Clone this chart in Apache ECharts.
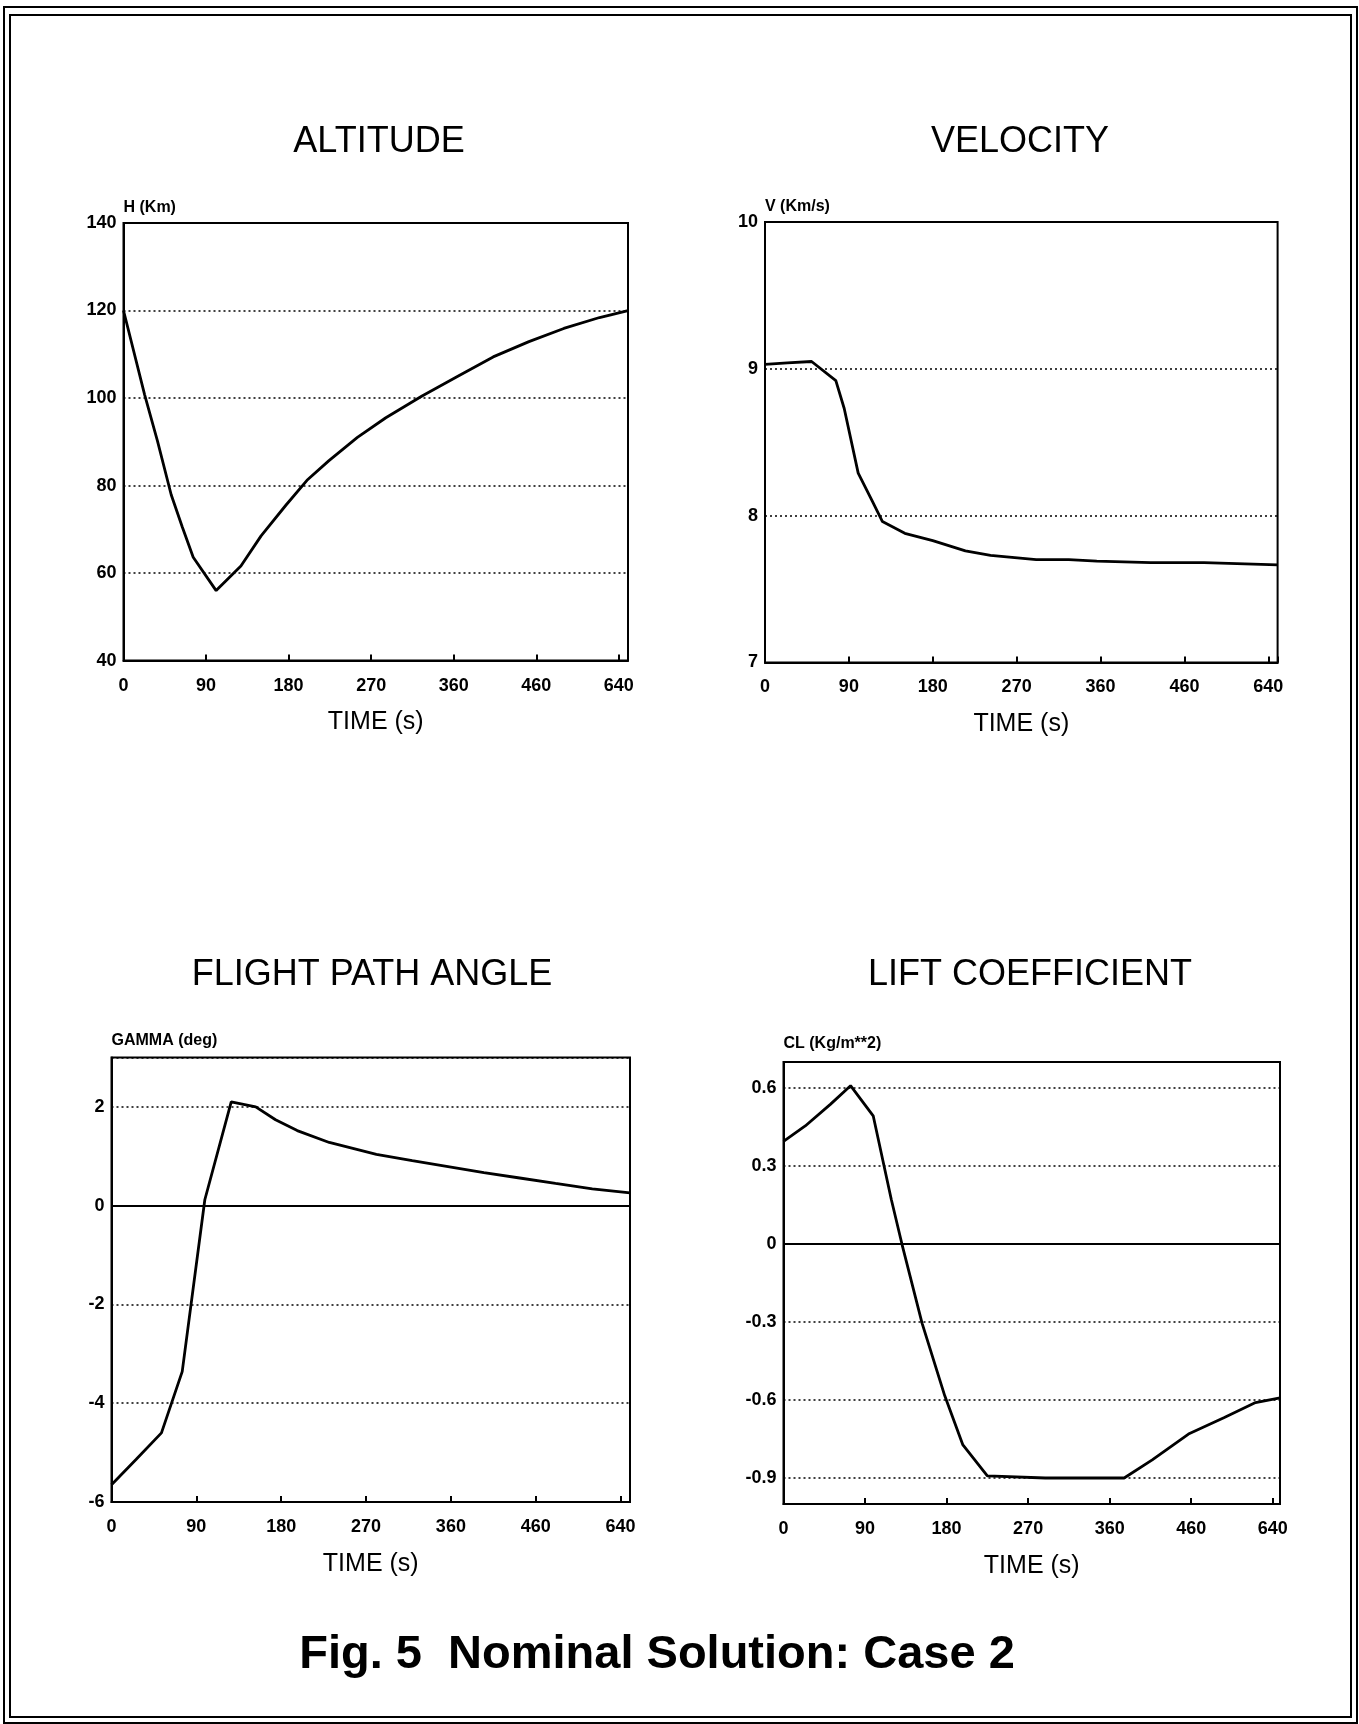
<!DOCTYPE html>
<html><head><meta charset="utf-8">
<script src="https://cdn.jsdelivr.net/npm/echarts@6/dist/echarts.min.js"></script>
<style>html,body{margin:0;padding:0;background:#fff}#c{width:1359px;height:1724px}</style>
</head><body><div id="c"></div>
<script>
// ---- data ----
const timeTicks = [0, 90, 180, 270, 360, 450, 540];
const timeTickLabels = ['0', '90', '180', '270', '360', '460', '640'];

const altTicks = [40, 60, 80, 100, 120, 140];
const altTickLabels = ['40', '60', '80', '100', '120', '140'];
const altTime = [0, 23, 37, 52, 64, 76, 101, 128, 150, 177, 200, 224, 255, 286, 325, 364, 403, 442, 480, 519, 550];
const altH = [120, 100.8, 90.2, 77.9, 70.6, 63.6, 56.0, 61.6, 68.5, 75.5, 81.2, 85.7, 91.0, 95.5, 100.4, 104.9, 109.4, 112.9, 115.9, 118.4, 120];

const velTicks = [7, 8, 9, 10];
const velTickLabels = ['7', '8', '9', '10'];
const velTime = [0, 24, 50, 76, 85, 100, 115, 126, 150, 180, 215, 242, 291, 326, 356, 414, 471, 550];
const velV = [9.03, 9.04, 9.05, 8.92, 8.73, 8.29, 8.10, 7.96, 7.88, 7.83, 7.76, 7.73, 7.70, 7.70, 7.69, 7.68, 7.68, 7.665];

const gamTicks = [-6, -4, -2, 0, 2];
const gamTickLabels = ['-6', '-4', '-2', '0', '2'];
const gamTime = [0, 26, 53, 75, 99, 127, 153, 174, 197, 231, 281, 319, 357, 395, 433, 471, 510, 550];
const gamG = [-5.65, -5.14, -4.60, -3.36, 0.12, 2.10, 2.0, 1.74, 1.52, 1.28, 1.04, 0.91, 0.79, 0.67, 0.56, 0.45, 0.34, 0.26];

const clTicks = [-0.9, -0.6, -0.3, 0, 0.3, 0.6];
const clTickLabels = ['-0.9', '-0.6', '-0.3', '0', '0.3', '0.6'];
const clTime = [0, 24, 52, 74, 99, 119, 131, 153, 178, 198, 225, 289, 376, 407, 447, 486, 521, 548];
const clCL = [0.395, 0.454, 0.538, 0.609, 0.493, 0.171, -0.004, -0.305, -0.584, -0.773, -0.892, -0.90, -0.90, -0.83, -0.731, -0.668, -0.61, -0.592];

const titles = ['ALTITUDE', 'VELOCITY', 'FLIGHT PATH ANGLE', 'LIFT COEFFICIENT'];
const yNames = ['H (Km)', 'V (Km/s)', 'GAMMA (deg)', 'CL (Kg/m**2)'];
const xName = 'TIME (s)';
const caption = 'Fig. 5  Nominal Solution: Case 2';

// ---- chart ----
const FONT = '"Liberation Sans", Arial, Helvetica, sans-serif';
const chart = echarts.init(document.getElementById('c'), null, { renderer: 'canvas' });

function lookup(ticks, labels) {
  return function (v) {
    for (let i = 0; i < ticks.length; i++) if (Math.abs(ticks[i] - v) < 1e-6) return labels[i];
    return '';
  };
}
const pair = (xs, ys) => xs.map((x, i) => [x, ys[i]]);

const grids = [
  { left: 123.5, top: 223, width: 504.5, height: 437.6 },
  { left: 765, top: 222, width: 512.6, height: 440.5 },
  { left: 111.5, top: 1057.5, width: 518.5, height: 444.5 },
  { left: 783.5, top: 1062, width: 496.5, height: 442 }
];
grids.forEach(g => { g.show = true; g.borderColor = '#000'; g.borderWidth = 2; });

const xMax = [550, 550, 550, 548];
const xAxes = xMax.map((mx, i) => ({
  type: 'value', gridIndex: i, min: 0, max: mx, interval: 90,
  axisLine: { show: true, onZero: false, lineStyle: { color: '#000', width: 2 } },
  axisTick: { show: true, inside: true, length: 6, lineStyle: { color: '#000', width: 2 } },
  axisLabel: { formatter: lookup(timeTicks, timeTickLabels), margin: 16, color: '#000', fontSize: 18, fontWeight: 'bold', fontFamily: FONT, showMaxLabel: true },
  splitLine: { show: false },
  name: xName, nameLocation: 'middle', nameGap: 62,
  nameTextStyle: { fontSize: 25, color: '#000', fontFamily: FONT, verticalAlign: 'middle' }
}));

const dotted = { color: '#000', width: 1.6, type: [2, 3] };
const yBase = (i, min, max, interval, ticks, labels, nameGap) => ({
  type: 'value', gridIndex: i, min: min, max: max, interval: interval,
  axisLine: { show: true, onZero: false, lineStyle: { color: '#000', width: 2 } },
  axisTick: { show: false },
  axisLabel: { formatter: lookup(ticks, labels), margin: 7, color: '#000', fontSize: 18, fontWeight: 'bold', fontFamily: FONT },
  splitLine: { show: true, lineStyle: dotted },
  name: yNames[i], nameLocation: 'end', nameGap: nameGap,
  nameTextStyle: { fontSize: 16, fontWeight: 'bold', color: '#000', fontFamily: FONT, align: 'left', verticalAlign: 'middle' }
});
const yAxes = [
  yBase(0, 40, 140, 20, altTicks, altTickLabels, 15),
  yBase(1, 7, 10, 1, velTicks, velTickLabels, 15),
  yBase(2, -6, 3, 2, gamTicks, gamTickLabels, 17),
  Object.assign(yBase(3, -1.0, 0.7, null, clTicks, clTickLabels, 18), {
    interval: undefined,
    axisLabel: { customValues: clTicks, formatter: lookup(clTicks, clTickLabels), margin: 7, color: '#000', fontSize: 18, fontWeight: 'bold', fontFamily: FONT },
    axisTick: { show: false, customValues: clTicks },
    splitLine: { show: false }
  })
];

const curve = { color: '#000', width: 2.8 };
const solidZero = { color: '#000', width: 2, type: 'solid' };
const series = [
  { type: 'line', xAxisIndex: 0, yAxisIndex: 0, data: pair(altTime, altH), showSymbol: false, lineStyle: curve },
  { type: 'line', xAxisIndex: 1, yAxisIndex: 1, data: pair(velTime, velV), showSymbol: false, lineStyle: curve },
  { type: 'line', xAxisIndex: 2, yAxisIndex: 2, data: pair(gamTime, gamG), showSymbol: false, lineStyle: curve,
    markLine: { silent: true, symbol: ['none', 'none'], label: { show: false }, lineStyle: solidZero, data: [{ yAxis: 0 }] } },
  { type: 'line', xAxisIndex: 3, yAxisIndex: 3, data: pair(clTime, clCL), showSymbol: false, lineStyle: curve, z: 5,
    markLine: { silent: true, symbol: ['none', 'none'], label: { show: false }, z: 3,
      data: clTicks.map(v => ({ yAxis: v, lineStyle: v === 0 ? solidZero : dotted })) } }
];

const titlePos = [[379, 142], [1020, 142], [372, 975], [1030, 975]];
const graphic = titles.map((t, i) => ({
  type: 'text', x: titlePos[i][0], y: titlePos[i][1], silent: true,
  style: { text: t, fontSize: 36, fontFamily: FONT, fill: '#000', align: 'center', verticalAlign: 'middle' }
}));
graphic.push({ type: 'text', x: 657, y: 1655, silent: true,
  style: { text: caption, fontSize: 47, fontWeight: 'bold', fontFamily: FONT, fill: '#000', align: 'center', verticalAlign: 'middle' } });
graphic.push({ type: 'rect', silent: true, shape: { x: 4, y: 7, width: 1353, height: 1716 }, style: { fill: 'none', stroke: '#000', lineWidth: 2 } });
graphic.push({ type: 'rect', silent: true, shape: { x: 10, y: 15, width: 1341, height: 1702 }, style: { fill: 'none', stroke: '#000', lineWidth: 2 } });

chart.setOption({
  animation: false,
  backgroundColor: '#fff',
  grid: grids,
  xAxis: xAxes,
  yAxis: yAxes,
  series: series,
  graphic: graphic
});
</script></body></html>
